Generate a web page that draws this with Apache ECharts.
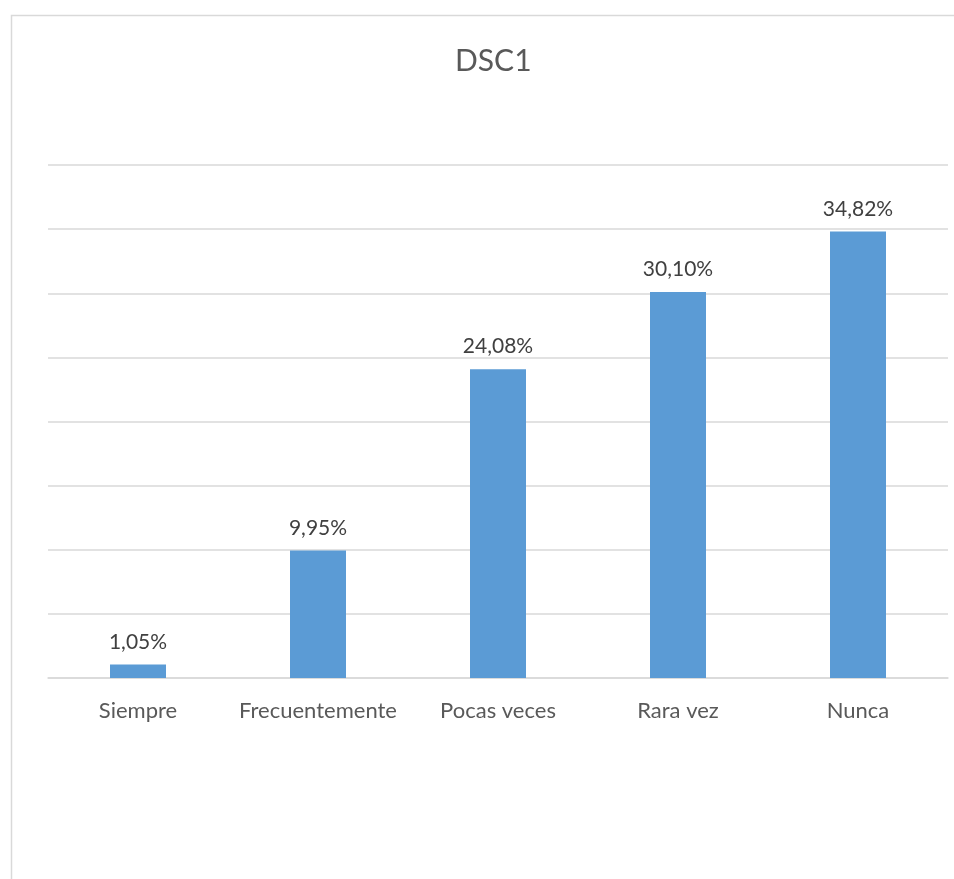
<!DOCTYPE html>
<html>
<head>
<meta charset="utf-8">
<script src="https://cdn.jsdelivr.net/npm/echarts@6/dist/echarts.min.js"></script>
<style>html,body{margin:0;padding:0;background:#fff;}#c{width:954px;height:879px;}</style>
</head>
<body>
<div id="c"></div>
<script>
var categories = ['Siempre', 'Frecuentemente', 'Pocas veces', 'Rara vez', 'Nunca'];
var values = [1.05, 9.95, 24.08, 30.10, 34.82];
var titleText = 'DSC1';

var chart = echarts.init(document.getElementById('c'));
chart.setOption({
  animation: false,
  backgroundColor: '#fff',
  graphic: [{
    type: 'rect', left: 9, top: 13, silent: true,
    shape: { width: 960, height: 900 },
    style: { fill: 'none', stroke: '#d9d9d9', lineWidth: 1.5 }
  }],
  title: {
    text: titleText, left: 450, top: 41,
    textStyle: { fontFamily: 'Lato', fontSize: 30, fontWeight: 'normal', color: '#595959' }
  },
  grid: { left: 48, right: 6, top: 165, bottom: 201 },
  xAxis: {
    type: 'category', data: categories,
    axisLine: { lineStyle: { color: '#d9d9d9', width: 1.5 } },
    axisTick: { show: false },
    axisLabel: { interval: 0, hideOverlap: false, fontFamily: 'Lato', fontSize: 22, color: '#595959', margin: 22 }
  },
  yAxis: {
    type: 'value', min: 0, max: 40, interval: 5,
    axisLabel: { show: false },
    axisLine: { show: false }, axisTick: { show: false },
    splitLine: { lineStyle: { color: '#d9d9d9', width: 1.5 } }
  },
  series: [{
    type: 'bar', data: values, barWidth: 56,
    itemStyle: { color: '#5b9bd5' },
    label: {
      show: true, position: 'top', distance: 12,
      fontFamily: 'Lato', fontSize: 21, color: '#404040',
      formatter: function (p) { return p.value.toFixed(2).replace('.', ',') + '%'; }
    }
  }]
});
</script>
</body>
</html>
